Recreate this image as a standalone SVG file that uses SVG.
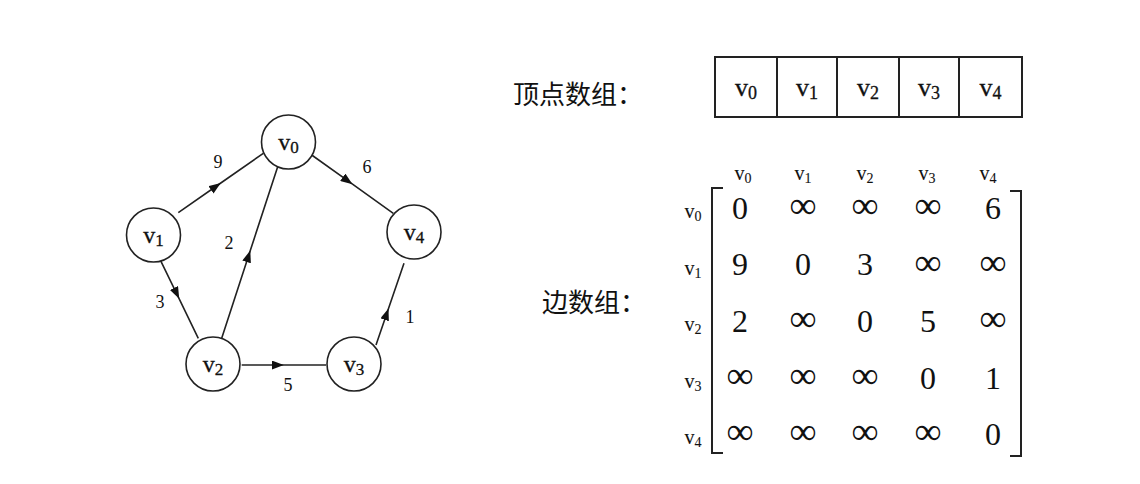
<svg xmlns="http://www.w3.org/2000/svg" width="1140" height="484" viewBox="0 0 1140 484">
<style>
.bg{fill:#fff}
.node{fill:#fff;stroke:#222;stroke-width:1.6}
.edge{fill:none;stroke:#222;stroke-width:1.6;marker-mid:url(#arr)}
.vt{font-family:"Liberation Serif","Times New Roman",serif;fill:#111;text-anchor:middle;stroke:#111;stroke-width:0.3}
.nt{font-size:24px}
.num{font-family:"Liberation Serif","Times New Roman",serif;font-size:18px;fill:#111;text-anchor:middle}
.cj{font-family:"Noto Sans CJK SC","Noto Sans",sans-serif;font-size:26px;fill:#111}
.cell{fill:#fff;stroke:#222;stroke-width:2}
.at{font-size:26px}
.hd{font-size:20px;stroke-width:0.1}
.mv{font-family:"Liberation Serif","Times New Roman",serif;font-size:32px;fill:#111;text-anchor:middle}
.inf{font-size:38px}
.br{fill:none;stroke:#222;stroke-width:2}
</style>
<defs>
<marker id="arr" markerUnits="userSpaceOnUse" markerWidth="12" markerHeight="9" refX="12" refY="4.5" orient="auto">
<path d="M0,0 L12,4.5 L0,9 z" fill="#111"/>
</marker>
</defs>
<rect class="bg" x="0" y="0" width="1140" height="484"/>

<g id="connectors">
<path class="edge" d="M178.3,212.7 L220.8,183 L263.3,153.3"/>
<path class="edge" d="M311.7,155 L352.5,184.2 L393.3,213.3"/>
<path class="edge" d="M221.7,338.3 L250.3,250.5 L279,162.7"/>
<path class="edge" d="M160,259.3 L179.2,298.8 L198.3,338.3"/>
<path class="edge" d="M241.7,365 L283.8,365 L326,365"/>
<path class="edge" d="M376,345 L388.5,308.5 L404,263.3"/>
<text class="num" x="218" y="168">9</text>
<text class="num" x="367" y="173">6</text>
<text class="num" x="229" y="249">2</text>
<text class="num" x="160" y="308">3</text>
<text class="num" x="288" y="391">5</text>
<text class="num" x="410" y="323">1</text>
</g>

<g id="node-v0"><circle class="node" cx="288.5" cy="142" r="27"/><text class="vt nt" x="288.5" y="150">v<tspan font-size="17" dy="3">0</tspan></text></g>
<g id="node-v1"><circle class="node" cx="153.5" cy="235" r="27"/><text class="vt nt" x="153.5" y="243">v<tspan font-size="17" dy="3">1</tspan></text></g>
<g id="node-v2"><circle class="node" cx="213" cy="364" r="27"/><text class="vt nt" x="213" y="372">v<tspan font-size="17" dy="3">2</tspan></text></g>
<g id="node-v3"><circle class="node" cx="354" cy="364" r="27"/><text class="vt nt" x="354" y="372">v<tspan font-size="17" dy="3">3</tspan></text></g>
<g id="node-v4"><circle class="node" cx="414" cy="232" r="27"/><text class="vt nt" x="414" y="240">v<tspan font-size="17" dy="3">4</tspan></text></g>

<g id="vertex-array">
<text class="cj" x="513" y="104">顶点数组：</text>
<rect class="cell" x="715" y="57" width="62" height="60"/>
<rect class="cell" x="777" y="57" width="60" height="60"/>
<rect class="cell" x="837" y="57" width="62" height="60"/>
<rect class="cell" x="899" y="57" width="60" height="60"/>
<rect class="cell" x="959" y="57" width="63" height="60"/>
<text class="vt at" x="746" y="96">v<tspan font-size="18" dy="3">0</tspan></text>
<text class="vt at" x="807" y="96">v<tspan font-size="18" dy="3">1</tspan></text>
<text class="vt at" x="868" y="96">v<tspan font-size="18" dy="3">2</tspan></text>
<text class="vt at" x="929" y="96">v<tspan font-size="18" dy="3">3</tspan></text>
<text class="vt at" x="990.5" y="96">v<tspan font-size="18" dy="3">4</tspan></text>
</g>

<g id="edge-matrix">
<text class="cj" x="542" y="312">边数组：</text>
<text class="vt hd" x="743" y="180">v<tspan font-size="14" dy="3">0</tspan></text>
<text class="vt hd" x="803" y="180">v<tspan font-size="14" dy="3">1</tspan></text>
<text class="vt hd" x="865" y="180">v<tspan font-size="14" dy="3">2</tspan></text>
<text class="vt hd" x="927" y="180">v<tspan font-size="14" dy="3">3</tspan></text>
<text class="vt hd" x="988" y="180">v<tspan font-size="14" dy="3">4</tspan></text>
<text class="vt hd" x="693" y="218">v<tspan font-size="14" dy="3">0</tspan></text>
<text class="vt hd" x="693" y="274.5">v<tspan font-size="14" dy="3">1</tspan></text>
<text class="vt hd" x="693" y="331">v<tspan font-size="14" dy="3">2</tspan></text>
<text class="vt hd" x="693" y="387.5">v<tspan font-size="14" dy="3">3</tspan></text>
<text class="vt hd" x="693" y="444">v<tspan font-size="14" dy="3">4</tspan></text>
<path class="br" d="M723,188 H712 V453 H723"/>
<path class="br" d="M1010,191 H1021 V456 H1010"/>
<text class="mv" x="740" y="219">0</text>
<text class="mv inf" x="803" y="218">∞</text>
<text class="mv inf" x="865" y="218">∞</text>
<text class="mv inf" x="928" y="218">∞</text>
<text class="mv" x="993" y="219">6</text>
<text class="mv" x="740" y="275">9</text>
<text class="mv" x="803" y="275">0</text>
<text class="mv" x="865" y="275">3</text>
<text class="mv inf" x="928" y="274.5">∞</text>
<text class="mv inf" x="993" y="274.5">∞</text>
<text class="mv" x="740" y="332">2</text>
<text class="mv inf" x="803" y="331">∞</text>
<text class="mv" x="865" y="332">0</text>
<text class="mv" x="928" y="332">5</text>
<text class="mv inf" x="993" y="331">∞</text>
<text class="mv inf" x="740" y="387.5">∞</text>
<text class="mv inf" x="803" y="387.5">∞</text>
<text class="mv inf" x="865" y="387.5">∞</text>
<text class="mv" x="928" y="389">0</text>
<text class="mv" x="993" y="389">1</text>
<text class="mv inf" x="740" y="444">∞</text>
<text class="mv inf" x="803" y="444">∞</text>
<text class="mv inf" x="865" y="444">∞</text>
<text class="mv inf" x="928" y="444">∞</text>
<text class="mv" x="993" y="445">0</text>
</g>
</svg>
